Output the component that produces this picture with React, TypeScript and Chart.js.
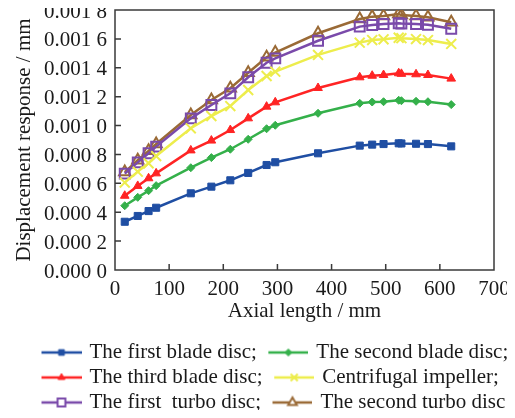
import React, { useEffect, useRef } from 'react';
import { Chart, registerables } from 'chart.js';

Chart.register(...registerables);

const axialLength = [18, 42, 62, 76, 140, 178, 213, 246, 280, 296, 375, 452, 475, 496, 524, 529, 556, 578, 621];
const firstBladeDisc = [0.000334, 0.000374, 0.000408, 0.000431, 0.000531, 0.000577, 0.000621, 0.000672, 0.000727, 0.000746, 0.000808, 0.000861, 0.000868, 0.000872, 0.000877, 0.000876, 0.000874, 0.000872, 0.000856];
const secondBladeDisc = [0.000445, 0.000503, 0.000549, 0.000584, 0.000708, 0.000778, 0.000836, 0.000905, 0.000978, 0.001002, 0.001085, 0.001154, 0.001163, 0.001165, 0.001175, 0.001172, 0.001168, 0.001165, 0.001145];
const thirdBladeDisc = [0.000514, 0.000582, 0.000635, 0.000669, 0.000828, 0.000896, 0.000969, 0.00105, 0.001131, 0.001161, 0.00126, 0.001334, 0.001345, 0.00135, 0.001362, 0.001358, 0.001355, 0.00135, 0.001325];
const centrifugalImpeller = [0.000605, 0.000681, 0.000739, 0.000789, 0.000981, 0.001066, 0.001135, 0.001246, 0.001343, 0.001373, 0.001489, 0.001574, 0.001592, 0.001597, 0.001608, 0.001605, 0.001599, 0.001592, 0.001565];
const firstTurboDisc = [0.000667, 0.000745, 0.000808, 0.000854, 0.00105, 0.001142, 0.001223, 0.001334, 0.001435, 0.001465, 0.001587, 0.001685, 0.001696, 0.001703, 0.001708, 0.001706, 0.001703, 0.001698, 0.00167];
const secondTurboDisc = [0.000678, 0.00076, 0.000825, 0.000872, 0.001073, 0.001177, 0.001258, 0.001366, 0.001473, 0.001505, 0.001639, 0.001738, 0.001754, 0.001758, 0.001772, 0.001765, 0.001758, 0.00175, 0.001715];

const seriesNames = [
  'The first blade disc;',
  'The second blade disc;',
  'The third blade disc;',
  'Centrifugal impeller;',
  'The first  turbo disc;',
  'The second turbo disc',
];

const FONT = '"Liberation Serif", "Times New Roman", serif';
const TEXT = '#1a1a1a';

type Style = { color: string; shape: string; radius: number; filled: boolean; lr: number };

const styles: Style[] = [
  { color: '#1f4ea3', shape: 'rect', radius: 5, filled: true, lr: 4 },
  { color: '#34b04a', shape: 'rectRot', radius: 4, filled: true, lr: 3.5 },
  { color: '#ff2424', shape: 'triangle', radius: 5, filled: true, lr: 4 },
  { color: '#eded4c', shape: 'crossRot', radius: 7, filled: false, lr: 5 },
  { color: '#7a4aaa', shape: 'rect', radius: 7, filled: false, lr: 5.5 },
  { color: '#9a6a36', shape: 'triangle', radius: 6.5, filled: false, lr: 5 },
];

function drawShape(ctx: CanvasRenderingContext2D, s: Style, x: number, y: number, r: number) {
  ctx.beginPath();
  if (s.shape === 'rect') {
    const h = r * Math.SQRT1_2;
    ctx.rect(x - h, y - h, 2 * h, 2 * h);
  } else if (s.shape === 'rectRot') {
    ctx.moveTo(x, y - r);
    ctx.lineTo(x + r, y);
    ctx.lineTo(x, y + r);
    ctx.lineTo(x - r, y);
    ctx.closePath();
  } else if (s.shape === 'triangle') {
    ctx.moveTo(x, y - r);
    ctx.lineTo(x + r * 0.866, y + r * 0.5);
    ctx.lineTo(x - r * 0.866, y + r * 0.5);
    ctx.closePath();
  } else if (s.shape === 'crossRot') {
    const h = r * Math.SQRT1_2;
    ctx.moveTo(x - h, y - h);
    ctx.lineTo(x + h, y + h);
    ctx.moveTo(x + h, y - h);
    ctx.lineTo(x - h, y + h);
  }
  if (s.filled) {
    ctx.fillStyle = s.color;
    ctx.fill();
  } else if (s.shape !== 'crossRot') {
    ctx.fillStyle = '#ffffff';
    ctx.fill();
  }
  ctx.strokeStyle = s.color;
  ctx.lineWidth = s.filled ? 1 : 2;
  ctx.stroke();
}

// legend swatch: 40px line with the marker in its middle
function legendImage(s: Style): HTMLCanvasElement {
  const c = document.createElement('canvas');
  c.width = 50;
  c.height = 16;
  const ctx = c.getContext('2d')!;
  ctx.strokeStyle = s.color;
  ctx.lineWidth = 2.5;
  ctx.beginPath();
  ctx.moveTo(10, 8);
  ctx.lineTo(50, 8);
  ctx.stroke();
  drawShape(ctx, s, 30, 8, s.lr);
  return c;
}

const seriesValues = [firstBladeDisc, secondBladeDisc, thirdBladeDisc, centrifugalImpeller, firstTurboDisc, secondTurboDisc];

const framePlugin = {
  id: 'frameTicks',
  afterLayout(chart: any) {
    if (chart.legend) {
      chart.legend.left = 30;
      chart.legend.right = 560;
    }
  },
  beforeDatasetsDraw(chart: any) {
    const { ctx, chartArea: a, scales } = chart;
    ctx.save();
    ctx.strokeStyle = '#3a3a3a';
    ctx.lineWidth = 1.5;
    ctx.strokeRect(a.left, a.top, a.right - a.left, a.bottom - a.top);
    ctx.beginPath();
    scales.x.ticks.forEach((t: any) => {
      const px = scales.x.getPixelForValue(t.value);
      if (px > a.left + 1 && px < a.right - 1) {
        ctx.moveTo(px, a.bottom);
        ctx.lineTo(px, a.bottom - 6);
      }
    });
    scales.y.ticks.forEach((t: any) => {
      const py = scales.y.getPixelForValue(t.value);
      if (py > a.top + 1 && py < a.bottom - 1) {
        ctx.moveTo(a.left, py);
        ctx.lineTo(a.left + 6, py);
      }
    });
    ctx.stroke();
    ctx.restore();
  },
};

export default function App() {
  const ref = useRef<HTMLCanvasElement | null>(null);
  useEffect(() => {
    if (!ref.current) return;
    const images = styles.map(legendImage);
    const chart = new Chart(ref.current, {
      type: 'line',
      data: {
        datasets: seriesValues.map((vals, i) => ({
          label: seriesNames[i],
          data: axialLength.map((x, j) => ({ x, y: vals[j] })),
          borderColor: styles[i].color,
          backgroundColor: styles[i].filled ? styles[i].color : 'rgba(255,255,255,0)',
          pointBorderColor: styles[i].color,
          pointBackgroundColor: styles[i].filled ? styles[i].color : 'rgba(255,255,255,0)',
          pointStyle: styles[i].shape as any,
          pointRadius: styles[i].radius,
          pointBorderWidth: styles[i].filled ? 1 : 2,
          borderWidth: 2.5,
          tension: 0,
          fill: false,
        })),
      },
      options: {
        responsive: false,
        animation: false,
        devicePixelRatio: 1,
        layout: { padding: { left: 0, right: 21, top: 10, bottom: -5 } },
        plugins: {
          tooltip: { enabled: false },
          legend: {
            position: 'bottom',
            align: 'start',
            labels: {
              usePointStyle: true,
              pointStyleWidth: 45,
              padding: 4,
              color: TEXT,
              font: { family: FONT, size: 21 },
              generateLabels: (ch: any) =>
                ch.data.datasets.map((d: any, i: number) => ({
                  text: d.label,
                  pointStyle: images[i],
                  fillStyle: styles[i].color,
                  strokeStyle: styles[i].color,
                  lineWidth: 0,
                  hidden: false,
                  datasetIndex: i,
                  fontColor: TEXT,
                })),
            },
          },
        },
        scales: {
          x: {
            type: 'linear',
            min: 0,
            max: 700,
            ticks: { stepSize: 100, padding: 9, color: TEXT, font: { family: FONT, size: 21, lineHeight: 1 } },
            grid: { display: false, drawTicks: false },
            border: { display: false },
            title: {
              display: true,
              text: 'Axial length / mm',
              color: TEXT,
              font: { family: FONT, size: 21, lineHeight: 1 },
              padding: { top: 0, bottom: 16 },
            },
            afterFit: (s: any) => {
              s.height = 68;
              s.paddingRight = 0;
            },
          },
          y: {
            type: 'linear',
            min: 0,
            max: 0.0018,
            ticks: {
              stepSize: 0.0002,
              padding: 8,
              labelOffset: 2,
              color: TEXT,
              font: { family: FONT, size: 21, lineHeight: 1 },
              callback: (v: any) => {
                const s = Number(v).toFixed(4);
                return s.slice(0, 5) + ' ' + s.slice(5);
              },
            },
            grid: { display: false, drawTicks: false },
            border: { display: false },
            title: {
              display: true,
              text: 'Displacement response / mm',
              color: TEXT,
              font: { family: FONT, size: 21, lineHeight: 1 },
              padding: { top: 14, bottom: 0 },
            },
            afterFit: (s: any) => {
              s.width = 115;
              s.paddingTop = 0;
              s.paddingBottom = 0;
            },
          },
        },
      },
      plugins: [framePlugin],
    } as any);
    return () => chart.destroy();
  }, []);
  return (
    <div style={{ margin: -8, width: 515, height: 418, overflow: 'hidden', background: '#fff' }}>
      <canvas ref={ref} width={515} height={418} style={{ display: 'block' }} />
    </div>
  );
}
